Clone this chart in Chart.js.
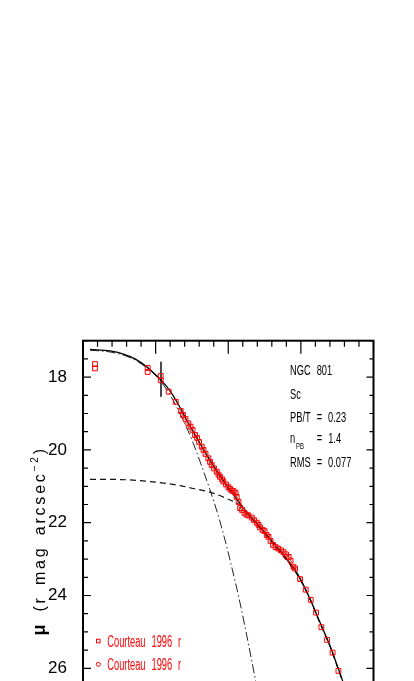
<!DOCTYPE html>
<html>
<head>
<meta charset="utf-8">
<script src="https://cdn.jsdelivr.net/npm/chart.js@4"></script>
<style>
  html, body { margin: 0; padding: 0; background: #fff; overflow: hidden; }
  #wrap { position: absolute; left: 0; top: 0; width: 414px; height: 800px; }
</style>
</head>
<body>
<div id="wrap"><canvas id="profile" role="img" aria-label="NGC 801 surface brightness profile"></canvas></div>
<script>
/* Surface brightness profile, NGC 801 (r band) */

/* observed points, Courteau 1996 r */
const OBS_X = [0.165, 0.165, 0.891, 0.891, 1.070, 1.070, 1.180, 1.277, 1.346, 1.377,
  1.412, 1.450, 1.481, 1.508, 1.543, 1.570, 1.598, 1.635, 1.660, 1.687,
  1.726, 1.749, 1.773, 1.804, 1.842, 1.866, 1.887, 1.915, 1.933, 1.970,
  2.001, 2.025, 2.048, 2.073, 2.101, 2.117, 2.142, 2.163, 2.190, 2.222,
  2.252, 2.277, 2.324, 2.355, 2.393, 2.417, 2.438, 2.472, 2.500, 2.530,
  2.555, 2.583, 2.617, 2.652, 2.686, 2.727, 2.762, 2.796, 2.831, 2.858,
  2.897, 2.920, 2.989, 3.067, 3.136, 3.209, 3.282, 3.361, 3.437, 3.517];
const OBS_Y = [17.64, 17.76, 17.75, 17.86, 17.97, 18.09, 18.40, 18.68, 18.93, 19.04,
  19.15, 19.27, 19.36, 19.45, 19.59, 19.67, 19.78, 19.91, 20.00, 20.11,
  20.23, 20.33, 20.42, 20.51, 20.60, 20.68, 20.74, 20.81, 20.87, 20.95,
  21.02, 21.07, 21.12, 21.13, 21.18, 21.29, 21.43, 21.60, 21.65, 21.73,
  21.78, 21.80, 21.86, 21.93, 22.00, 22.06, 22.13, 22.20, 22.23, 22.34,
  22.39, 22.50, 22.61, 22.67, 22.71, 22.76, 22.81, 22.87, 22.94, 23.04,
  23.21, 23.26, 23.55, 23.84, 24.12, 24.47, 24.87, 25.22, 25.57, 26.07];

/* model curves */
const TOTAL_X = [0.096, 0.372, 0.579, 0.716, 0.882, 0.992, 1.088, 1.198, 1.309, 1.419,
  1.543, 1.680, 1.818, 1.956, 2.094, 2.231, 2.369, 2.507, 2.645, 2.782,
  2.920, 2.989, 3.127, 3.264, 3.402, 3.512, 3.581, 3.650];
const TOTAL_Y = [17.24, 17.28, 17.38, 17.50, 17.72, 17.92, 18.11, 18.38, 18.74, 19.15,
  19.59, 20.06, 20.50, 20.91, 21.29, 21.65, 21.97, 22.28, 22.61, 22.94,
  23.30, 23.53, 24.10, 24.74, 25.39, 25.99, 26.38, 26.79];

const BULGE_X = [0.096, 0.372, 0.579, 0.716, 0.882, 0.992, 1.088, 1.240, 1.364, 1.501,
  1.653, 1.749, 1.860, 1.956, 2.025, 2.163, 2.259, 2.369, 2.410];
const BULGE_Y = [17.26, 17.31, 17.41, 17.53, 17.75, 17.94, 18.16, 18.63, 19.12, 19.73,
  20.55, 21.10, 21.79, 22.48, 23.03, 24.21, 25.14, 26.27, 26.73];

const DISK_X = [0.096, 0.372, 0.689, 0.923, 1.143, 1.336, 1.515, 1.749, 1.970, 2.163,
  2.300, 2.438, 2.576, 2.713, 2.851, 2.989, 3.127, 3.264, 3.402, 3.512, 3.581, 3.650];
const DISK_Y = [20.81, 20.81, 20.83, 20.87, 20.92, 20.98, 21.06, 21.16, 21.33, 21.53,
  21.84, 22.15, 22.48, 22.82, 23.15, 23.56, 24.11, 24.77, 25.40, 26.01, 26.40, 26.82];

/* seeing marker */
const SEEING_X = [1.074, 1.074];
const SEEING_Y = [17.58, 18.54];

const X_RANGE = [0, 4];
const Y_RANGE = [17, 28];
const Y_TICKS = [18, 20, 22, 24, 26, 28];

const INFO = ["NGC 801", "Sc", "PB/T = 0.23", "RMS = 0.077"];
const N_PB = ["n", "PB", "= 1.4"];
const LEGEND = ["Courteau 1996 r", "Courteau 1996 r"];
const Y_TITLE = [["\u03bc", "bold 18px"], [" (r mag arcsec", "16px"], ["\u22122", "10px"], [")", "16px"]];

const FONT = "'Liberation Sans', Arial, sans-serif";
const NARROW = "'Liberation Sans Narrow', 'Liberation Sans', sans-serif";

const pts = (xs, ys) => xs.map((v, i) => ({ x: v, y: ys[i] }));

/* condensed text with wide word gaps, like the original plot lettering */
function squeezed(ctx, text, x, y, size, sx, color, gap) {
  ctx.save();
  ctx.font = size + "px " + FONT;
  ctx.fillStyle = color || "#000";
  ctx.textBaseline = "alphabetic";
  let cx = x;
  text.split(" ").forEach((word, i) => {
    if (i > 0) cx += gap == null ? 6 : gap;
    ctx.save();
    ctx.translate(cx, y);
    ctx.scale(sx, 1);
    ctx.fillText(word, 0, 0);
    ctx.restore();
    cx += ctx.measureText(word).width * sx;
  });
  ctx.restore();
  return cx - x;
}

const framePlugin = {
  id: "frame",
  afterDraw(chart) {
    const { ctx, chartArea: a, scales: { x, y } } = chart;
    ctx.save();
    ctx.strokeStyle = "#000";
    ctx.lineWidth = 1.2;
    ctx.beginPath();
    for (let i = 0; i <= 20; i++) {
      const px = x.getPixelForValue(X_RANGE[0] + i * 0.2);
      const len = i % 5 === 0 ? 13 : 6;
      ctx.moveTo(px, a.top); ctx.lineTo(px, a.top + len);
    }
    for (let i = 0; i <= 22; i++) {
      const v = Y_RANGE[0] + i * 0.5;
      const py = y.getPixelForValue(v);
      const major = Y_TICKS.includes(v);
      ctx.moveTo(a.left, py); ctx.lineTo(a.left + (major ? 8 : 5), py);
      ctx.moveTo(a.right, py); ctx.lineTo(a.right - (major ? 7 : 4), py);
    }
    ctx.stroke();
    ctx.lineWidth = 2;
    ctx.strokeRect(a.left, a.top, a.right - a.left, a.bottom - a.top);

    /* info block */
    const ix = a.left + 207;
    squeezed(ctx, INFO[0], ix, a.top + 34.3, 15.5, 0.6);
    squeezed(ctx, INFO[1], ix, a.top + 58.3, 15.5, 0.6);
    squeezed(ctx, INFO[2], ix, a.top + 81.6, 15.5, 0.6);
    const wn = squeezed(ctx, N_PB[0], ix, a.top + 102.6, 15.5, 0.6);
    squeezed(ctx, N_PB[1], ix + wn + 0.8, a.top + 107.8, 9.5, 0.62);
    squeezed(ctx, N_PB[2], ix + 26.7, a.top + 102.6, 15.5, 0.6);
    squeezed(ctx, INFO[3], ix, a.top + 126, 15.5, 0.6);

    /* legend */
    const lx = a.left + 15.3;
    ctx.strokeStyle = "#ff0000";
    ctx.lineWidth = 1;
    ctx.strokeRect(lx - 1.8, a.top + 300.3 - 1.8, 3.6, 3.6);
    ctx.beginPath();
    ctx.arc(lx, a.top + 323.6, 2, 0, Math.PI * 2);
    ctx.stroke();
    squeezed(ctx, LEGEND[0], lx + 9, a.top + 306, 16, 0.58, "#ff0000", 6);
    squeezed(ctx, LEGEND[1], lx + 9, a.top + 329.3, 16, 0.58, "#ff0000", 6);

    /* y title, rotated, bottom to top */
    const spacing = 2.8;
    let total = 0;
    Y_TITLE.forEach(([t, f]) => {
      ctx.font = f + " " + FONT;
      for (const ch of t) total += ctx.measureText(ch).width + spacing + (ch === " " ? 3 : 0);
    });
    const cy = (a.top + a.bottom) / 2;
    ctx.translate(a.left - 38, cy + total / 2);
    ctx.rotate(-Math.PI / 2);
    ctx.fillStyle = "#000";
    let cx = 0;
    Y_TITLE.forEach(([t, f], k) => {
      ctx.font = f + " " + FONT;
      const dy = k === 2 ? -7 : 0;
      for (const ch of t) {
        ctx.fillText(ch, cx, dy);
        cx += ctx.measureText(ch).width + spacing + (ch === " " ? 3 : 0);
      }
    });
    ctx.restore();
  }
};

new Chart(document.getElementById("profile"), {
  type: "scatter",
  data: {
    datasets: [
      {
        label: "Courteau 1996 r",
        data: pts(OBS_X, OBS_Y),
        pointStyle: "rect",
        pointRadius: 3.4,
        pointBorderWidth: 1,
        pointBorderColor: "#ff0000",
        pointBackgroundColor: "rgba(0,0,0,0)"
      },
      {
        label: "errors",
        data: pts(OBS_X, OBS_Y),
        pointStyle: "crossRot",
        pointRadius: c => (c.dataIndex >= 8 && c.dataIndex <= 62 ? 2.6 : 0),
        pointBorderWidth: 0.8,
        pointBorderColor: "rgba(140,20,20,0.75)"
      },
      {
        label: "total",
        data: pts(TOTAL_X, TOTAL_Y),
        showLine: true,
        borderColor: "#000",
        borderWidth: 1.3,
        pointRadius: 0,
        cubicInterpolationMode: "monotone"
      },
      {
        label: "bulge",
        data: pts(BULGE_X, BULGE_Y),
        showLine: true,
        borderColor: "#222",
        borderWidth: 1,
        borderDash: [9, 3, 1.5, 3],
        pointRadius: 0,
        cubicInterpolationMode: "monotone"
      },
      {
        label: "disk",
        data: pts(DISK_X, DISK_Y),
        showLine: true,
        borderColor: "#111",
        borderWidth: 1.2,
        borderDash: [6, 4],
        pointRadius: 0,
        cubicInterpolationMode: "monotone"
      },
      {
        label: "seeing",
        data: pts(SEEING_X, SEEING_Y),
        showLine: true,
        borderColor: "#333",
        borderWidth: 1,
        pointRadius: 0
      }
    ]
  },
  options: {
    responsive: true,
    maintainAspectRatio: false,
    animation: false,
    devicePixelRatio: 1,
    layout: { padding: { top: 340.7, right: 40.5, bottom: 58.9, left: 0 } },
    plugins: { legend: { display: false }, tooltip: { enabled: false } },
    events: [],
    scales: {
      x: { type: "linear", display: false, min: X_RANGE[0], max: X_RANGE[1] },
      y: {
        type: "linear",
        reverse: true,
        min: Y_RANGE[0],
        max: Y_RANGE[1],
        afterBuildTicks: s => { s.ticks = Y_TICKS.map(v => ({ value: v })); },
        afterFit: s => { s.width = 83; },
        grid: { display: false },
        border: { display: false },
        ticks: { color: "#000", padding: 8, font: { family: NARROW, size: 17 } }
      }
    }
  },
  plugins: [framePlugin]
});
</script>
</body>
</html>
